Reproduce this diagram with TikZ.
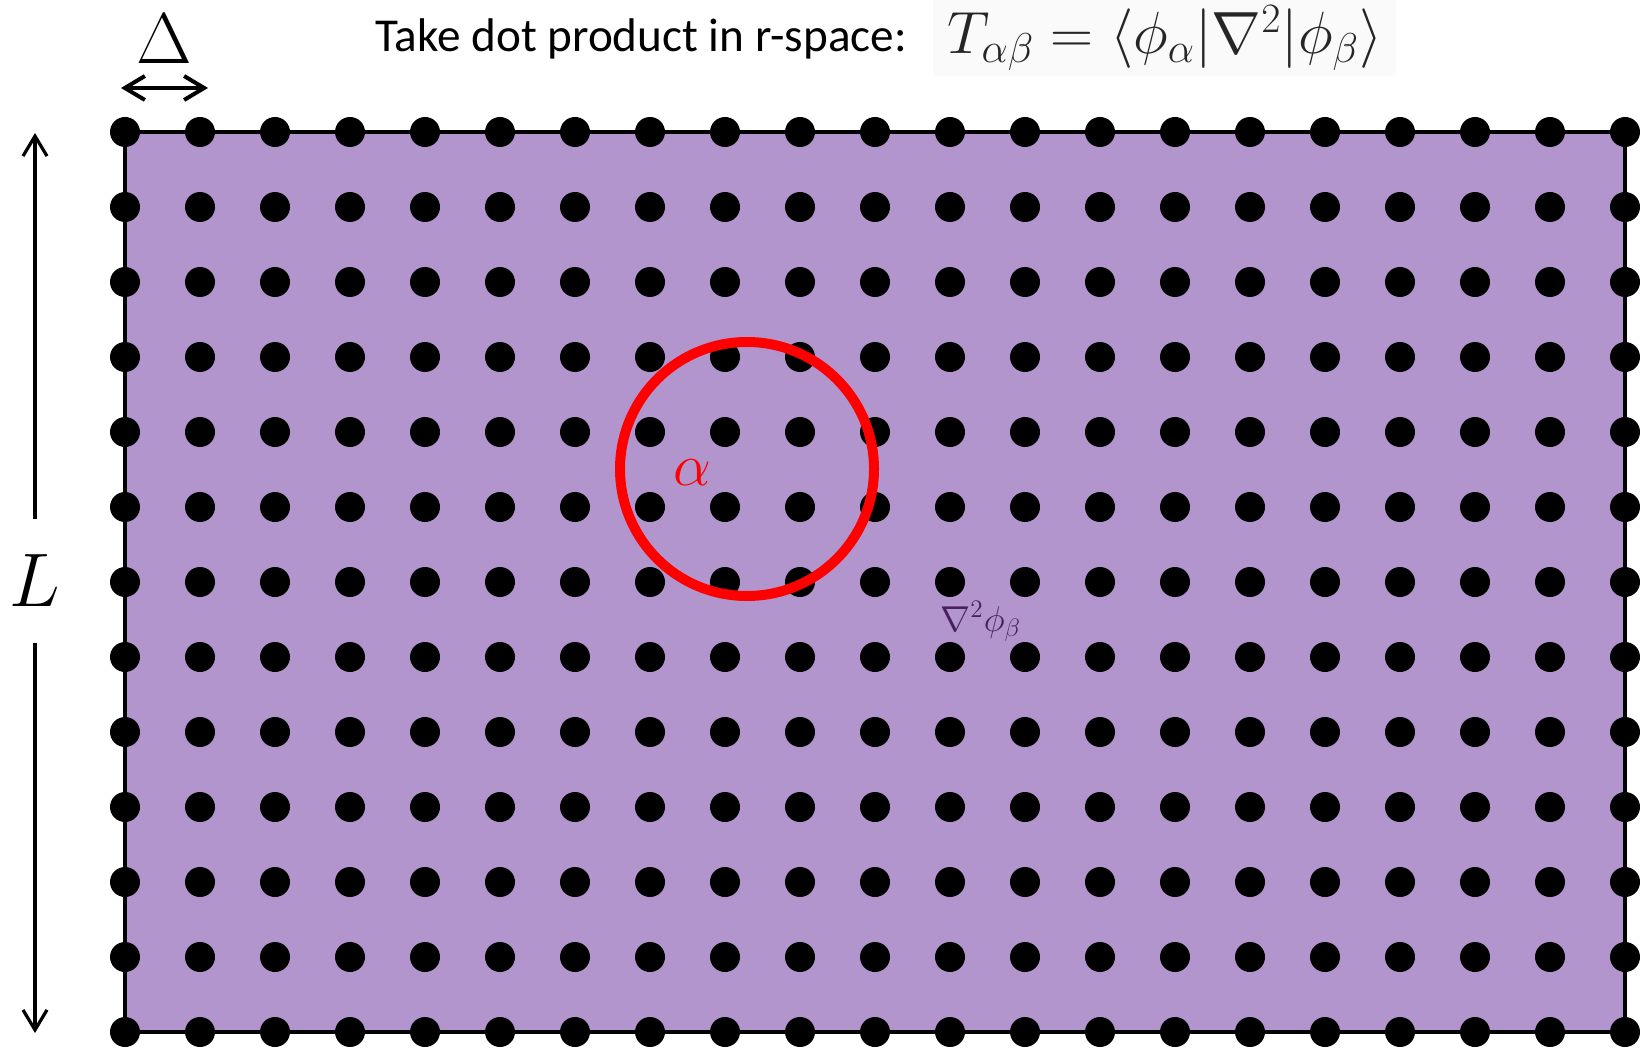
\RequirePackage{fix-cm}
\documentclass[tikz,border=0pt]{standalone}
\usepackage{amsmath,amssymb}
\usepackage{fontspec}
\newfontfamily\titlefont{Carlito}
\usetikzlibrary{arrows.meta}
\definecolor{gridfill}{RGB}{179,149,206}
\definecolor{lapcol}{RGB}{70,32,96}

\begin{document}
\begin{tikzpicture}[x=0.5pt,y=-0.5pt]
\tikzset{
  gridpt/.style={circle,fill=black,minimum size=15pt,inner sep=0pt},
  dimarrow/.style={{Straight Barb[length=10pt,width=12pt]}-{Straight Barb[length=10pt,width=12pt]},line width=2pt},
  sidearrow/.style={-{Straight Barb[length=10pt,width=12pt]},line width=1.6pt},
  orb/.style={circle,draw=red,line width=5pt,minimum size=127pt,inner sep=0pt}
}
\useasboundingbox (0,0) rectangle (1643,1048);
\draw[fill=gridfill,line width=2pt] (125,132) rectangle (1625,1032);
\foreach \i in {0,...,20}
  \foreach \j in {0,...,12}
    \node[gridpt] (g-\i-\j) at ({125+75*\i},{132+75*\j}) {};
\node[orb] (orb) at (747,469) {};
\node[text=red,font=\fontsize{30}{34}\selectfont,inner sep=0pt] (alab) at (692,473) {$\alpha$};
\node[text=lapcol,anchor=base west,inner sep=0pt,font=\fontsize{18}{22}\selectfont] (lap) at (940,631) {$\nabla^2\phi_\beta$};
\node[anchor=base west,inner sep=0pt,font=\titlefont\fontsize{23.6}{28}\selectfont] (title) at (375,52) {Take dot product in r-space:};
\node[anchor=base west,inner xsep=7pt,inner ysep=2.5pt,fill=black!2,text=black!85,font=\fontsize{29.8}{34}\selectfont] (teq) at (933,54) {$T_{\alpha\beta} = \langle \phi_\alpha | \nabla^2 | \phi_\beta \rangle$};
\node[font=\fontsize{36}{40}\selectfont,inner sep=0pt] (dlab) at (164,39) {$\Delta$};
\coordinate (dl) at (121,88);
\coordinate (dr) at (208,88);
\draw[dimarrow] (dl) -- (dr);
\node[font=\fontsize{38}{42}\selectfont,inner sep=0pt,minimum height=61.5pt] (llab) at (35,581) {$L$};
\coordinate (ltop) at (35,133);
\coordinate (lbot) at (35,1033);
\draw[sidearrow] (llab.north) -- (ltop);
\draw[sidearrow] (llab.south) -- (lbot);
\end{tikzpicture}
\end{document}
